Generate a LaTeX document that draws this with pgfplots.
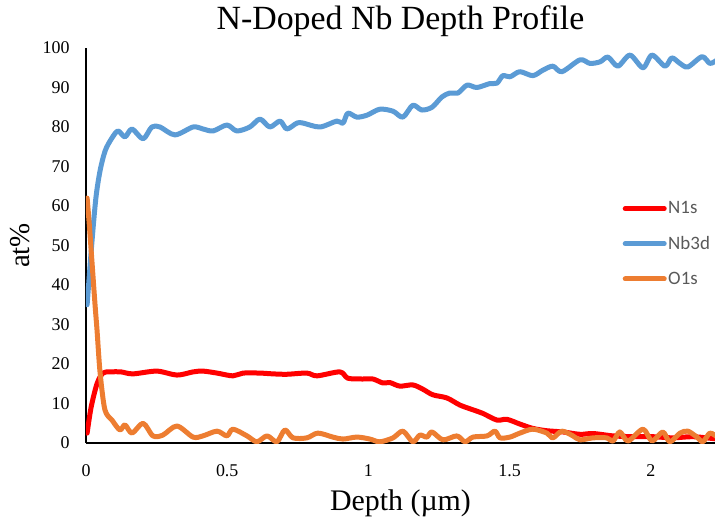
\documentclass[border=0pt]{standalone}
\usepackage{fontspec}
\setmainfont{Liberation Serif}
\newfontfamily\legendfont{Carlito}
\usepackage{pgfplots}
\pgfplotsset{compat=1.18}

\definecolor{nred}{HTML}{FF0000}
\definecolor{nbblue}{HTML}{5B9BD5}
\definecolor{oorange}{HTML}{ED7D31}
\definecolor{legendgray}{HTML}{595959}

\begin{document}
\begin{tikzpicture}
\begin{axis}[
  scale only axis,
  width=629bp, height=395bp,
  xmin=0, xmax=2.227, ymin=0, ymax=100,
  axis lines*=left,
  axis line style={black, line width=1.4bp},
  xtick={0,0.5,1,1.5,2},
  ytick={0,10,...,100},
  major tick length=0pt,
  /pgf/number format/assume math mode=true,
  tick label style={font=\fontsize{18}{18}\selectfont},
  xticklabel style={yshift=-18bp},
  yticklabel style={xshift=-13bp},
  title={N-Doped Nb Depth Profile},
  title style={at={(axis description cs:0.5,1)}, anchor=base, yshift=13bp,
    font=\fontsize{34}{34}\selectfont},
  xlabel={Depth (µm)},
  xlabel style={at={(axis description cs:0.5,0)}, anchor=base, yshift=-67bp,
    font=\fontsize{30}{30}\selectfont},
  ylabel={at\%},
  ylabel style={at={(axis description cs:0,0.5)}, anchor=south, rotate=0,
    yshift=53bp, font=\fontsize{29}{29}\selectfont},
  every axis plot/.append style={line width=5bp, smooth, tension=0.5, line join=round, line cap=round},
  legend style={draw=none, fill=none, at={(axis description cs:0.853,0.615)}, anchor=north west,
    font=\legendfont\fontsize{19}{19}\selectfont, text=legendgray,
    row sep=18bp, inner sep=0pt,
    nodes={inner sep=1.5bp}},
  legend cell align=left,
  legend image code/.code={\draw[#1, line cap=round] (0bp,0bp) -- (39bp,0bp);},
]
% N 1s
\addplot[color=nred] coordinates {
(0.004,2.5) (0.018,9) (0.039,15) (0.060,17.7) (0.085,18) (0.124,18) (0.166,17.5)
(0.251,18.2) (0.322,17.2) (0.379,18) (0.414,18.2) (0.464,17.7) (0.520,17) (0.556,17.7)
(0.616,17.7) (0.662,17.5) (0.711,17.4) (0.782,17.7) (0.818,17) (0.899,18) (0.927,16.4)
(0.980,16.2) (1.016,16.2) (1.051,15.2) (1.076,15.3) (1.111,14.4) (1.157,14.7) (1.193,13.6)
(1.228,12.2) (1.278,11.4) (1.324,9.6) (1.370,8.4) (1.405,7.5) (1.455,5.8) (1.490,6)
(1.536,4.8) (1.582,3.7) (1.632,3.1) (1.688,2.8) (1.749,2.2) (1.795,2.4) (1.866,1.8)
(1.936,1.6) (2.007,1.6) (2.078,1.3) (2.149,1.6) (2.235,1.0)
};
\addlegendentry{N1s}
% Nb 3d
\addplot[color=nbblue] coordinates {
(0.004,35) (0.02,50) (0.035,62) (0.05,69) (0.068,74) (0.09,77) (0.113,79) (0.138,77.5)
(0.163,79.5) (0.202,77) (0.233,80) (0.262,80) (0.315,78) (0.379,80) (0.414,79.5) (0.450,79)
(0.499,80.5) (0.534,79) (0.580,80) (0.616,82) (0.651,80) (0.687,81.5) (0.711,79.5) (0.747,81)
(0.768,81) (0.828,80) (0.888,81.5) (0.910,81) (0.927,83.5) (0.959,82.5) (0.995,83) (1.040,84.5)
(1.087,84) (1.122,82.5) (1.157,85.5) (1.189,84.3) (1.225,85) (1.260,87.6) (1.288,88.6)
(1.317,88.6) (1.349,90.6) (1.384,90) (1.430,91) (1.455,91.1) (1.476,93) (1.501,92.7)
(1.536,94) (1.582,93) (1.618,94.4) (1.653,95.4) (1.685,94) (1.749,97) (1.784,96.1)
(1.820,96.5) (1.848,97.7) (1.883,95.4) (1.926,98.2) (1.972,95) (2.004,98.2) (2.050,95.4)
(2.074,97.5) (2.103,96.1) (2.131,95.2) (2.181,97.8) (2.209,96.1) (2.235,97)
};
\addlegendentry{Nb3d}
% O 1s
\addplot[color=oorange] coordinates {
(0.004,62) (0.012,55) (0.022,45) (0.032,35) (0.039,28.6) (0.050,17.7) (0.067,8.4) (0.092,5.8)
(0.120,3.3) (0.138,4.6) (0.163,2.5) (0.202,5) (0.237,1.8) (0.272,2) (0.322,4.3) (0.379,1.5)
(0.414,1.8) (0.464,3) (0.499,1.8) (0.520,3.5) (0.570,1.8) (0.605,0.3) (0.641,1.8) (0.676,0.3)
(0.704,3.3) (0.733,1.3) (0.782,1.3) (0.821,2.5) (0.874,1.5) (0.910,1) (0.959,1.5) (1.005,1)
(1.040,0.3) (1.087,1.3) (1.122,3) (1.157,0.3) (1.182,2) (1.207,1.5) (1.225,2.8) (1.264,0.8)
(1.313,1.8) (1.342,0.3) (1.370,1.5) (1.420,1.8) (1.448,3) (1.466,1.3) (1.501,1.5) (1.536,2.5)
(1.582,3.5) (1.632,2.5) (1.653,1.3) (1.685,3) (1.724,1.8) (1.749,0.8) (1.795,1.3) (1.844,1.3)
(1.866,0.5) (1.890,2.8) (1.919,0.5) (1.972,3.5) (2.004,0.5) (2.042,2.8) (2.067,0.3) (2.103,2.5)
(2.131,3) (2.163,1.5) (2.184,0.3) (2.209,2.5) (2.235,1.5)
};
\addlegendentry{O1s}
\end{axis}
\pgfresetboundingbox
\useasboundingbox (-86bp,-78bp) rectangle (629bp,443bp);
\end{tikzpicture}
\end{document}
